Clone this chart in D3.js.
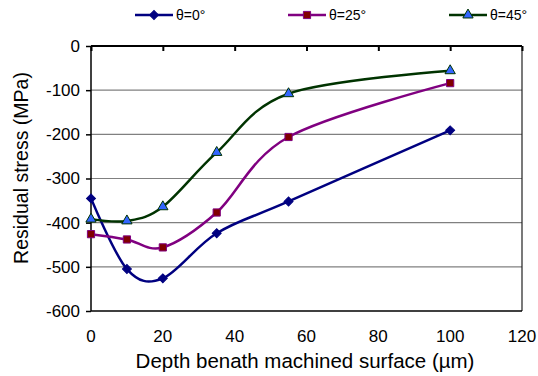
<!DOCTYPE html>
<html>
<head>
<meta charset="utf-8">
<script src="https://cdn.jsdelivr.net/npm/d3@7"></script>
<style>
    body { margin: 0; background: #fff; }
    svg { display: block; font-family: "Liberation Sans", Arial, sans-serif; }
</style>
</head>
<body>
<svg width="538" height="376"></svg>
<script>
const depth = [0, 10, 20, 35, 55, 100];
const theta0 = [-345, -505, -526, -424, -352, -191];
const theta25 = [-426, -438, -456, -377, -206, -84];
const theta45 = [-392, -396, -364, -241, -108, -56];
const seriesNames = ["θ=0°", "θ=25°", "θ=45°"];
const xTicks = [0, 20, 40, 60, 80, 100, 120];
const yTicks = [0, -100, -200, -300, -400, -500, -600];

const svg = d3.select("svg");

const attrArea = { left: 91, right: 522, top: 46, bottom: 311 };

const scaleX = d3.scaleLinear().domain([0, 120]).range([attrArea.left, attrArea.right]);
const scaleY = d3.scaleLinear().domain([-600, 0]).range([attrArea.bottom, attrArea.top]);

// gridlines
svg.append("g")
    .selectAll("line")
    .data(yTicks.filter((d) => d !== 0 && d !== -600))
    .enter()
    .append("line")
    .attr("x1", attrArea.left)
    .attr("x2", attrArea.right)
    .attr("y1", (d) => scaleY(d))
    .attr("y2", (d) => scaleY(d))
    .style("stroke", "#808080")
    .style("stroke-width", 1.2);

// frame: right and bottom
svg.append("line")
    .attr("x1", attrArea.right).attr("x2", attrArea.right)
    .attr("y1", attrArea.top).attr("y2", attrArea.bottom)
    .style("stroke", "#202020").style("stroke-width", 1.2);
svg.append("line")
    .attr("x1", attrArea.left).attr("x2", attrArea.right)
    .attr("y1", attrArea.bottom).attr("y2", attrArea.bottom)
    .style("stroke", "#000").style("stroke-width", 1.5);

// x axis crosses at 0 (top), labels below plot
const axisTop = svg.append("g")
    .attr("transform", `translate(0, ${scaleY(0)})`)
    .call(d3.axisBottom(scaleX).tickValues(xTicks).tickSize(5).tickFormat(""));
axisTop.select(".domain").attr("stroke-width", 2).attr("d", `M${attrArea.left},0H${attrArea.right}`);
axisTop.selectAll(".tick line").attr("stroke-width", 2);

svg.append("g")
    .selectAll("text")
    .data(xTicks)
    .enter()
    .append("text")
    .attr("x", (d) => scaleX(d))
    .attr("y", 342)
    .attr("text-anchor", "middle")
    .style("font-size", "17px")
    .text((d) => d);

const axisLeft = svg.append("g")
    .attr("transform", `translate(${attrArea.left}, 0)`)
    .call(d3.axisLeft(scaleY).tickValues(yTicks).tickSize(5).tickPadding(6).tickFormat((d) => String(d)));
axisLeft.select(".domain").attr("stroke-width", 1.5).attr("d", `M0,${attrArea.top}V${attrArea.bottom}`);
axisLeft.selectAll(".tick line").attr("stroke-width", 1.5);
axisLeft.selectAll("text").style("font-size", "17px").style("font-family", "Liberation Sans, Arial, sans-serif").attr("fill", "#000");

// axis titles
svg.append("text")
    .attr("x", 305)
    .attr("y", 368)
    .attr("text-anchor", "middle")
    .style("font-size", "20.5px")
    .text("Depth benath machined surface (µm)");

svg.append("text")
    .attr("transform", "translate(28, 168) rotate(-90)")
    .attr("text-anchor", "middle")
    .style("font-size", "19.5px")
    .text("Residual stress (MPa)");

// series
const series = [
    { name: seriesNames[0], values: theta0, line: "#000080", fill: "#000080", edge: "#000080", symbol: d3.symbolSquare, size: 40, rotate: 45 },
    { name: seriesNames[1], values: theta25, line: "#800080", fill: "#800000", edge: "#800080", symbol: d3.symbolSquare, size: 52, rotate: 0 },
    { name: seriesNames[2], values: theta45, line: "#003300", fill: "#3366ff", edge: "#003300", symbol: d3.symbolTriangle, size: 46, rotate: 0 }
];

const line = d3.line()
    .x((d) => scaleX(d[0]))
    .y((d) => scaleY(d[1]))
    .curve(d3.curveCardinal.tension(0));

for (const s of series) {
    const points = depth.map((x, i) => [x, s.values[i]]);
    svg.append("path")
        .datum(points)
        .attr("d", line)
        .style("fill", "none")
        .style("stroke", s.line)
        .style("stroke-width", 2.5);

    svg.selectAll(null)
        .data(points)
        .enter()
        .append("path")
        .attr("d", d3.symbol().type(s.symbol).size(s.size))
        .attr("transform", (d) => `translate(${scaleX(d[0])}, ${scaleY(d[1])}) rotate(${s.rotate})`)
        .style("fill", s.fill)
        .style("stroke", s.edge)
        .style("stroke-width", 1);
}

// legend
const legendX = [135, 288, 449];
series.forEach((s, i) => {
    const g = svg.append("g").attr("transform", `translate(${legendX[i]}, 15)`);
    g.append("line")
        .attr("x1", 0).attr("x2", 38)
        .style("stroke", s.line)
        .style("stroke-width", 2.5);
    g.append("path")
        .attr("d", d3.symbol().type(s.symbol).size(s.size))
        .attr("transform", `translate(19, 0) rotate(${s.rotate})`)
        .style("fill", s.fill)
        .style("stroke", s.edge)
        .style("stroke-width", 1);
    g.append("text")
        .attr("x", 41)
        .attr("y", 5)
        .style("font-size", "14px")
        .text(s.name);
});
</script>
</body>
</html>
